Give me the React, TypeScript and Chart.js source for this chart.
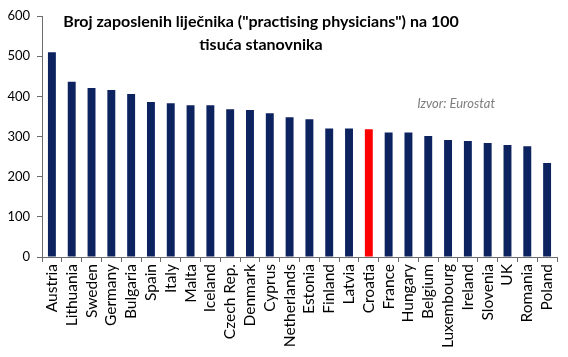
import React, { useEffect, useRef } from "react";
import { Chart, registerables } from "chart.js";

Chart.register(...registerables);

const countries = [
  "Austria", "Lithuania", "Sweden", "Germany", "Bulgaria", "Spain", "Italy", "Malta",
  "Iceland", "Czech Rep.", "Denmark", "Cyprus", "Netherlands", "Estonia", "Finland",
  "Latvia", "Croatia", "France", "Hungary", "Belgium", "Luxembourg", "Ireland",
  "Slovenia", "UK", "Romania", "Poland",
];
const physicians = [
  510, 436, 421, 416, 406, 386, 383, 378, 378, 368, 366, 358, 348, 343, 320,
  320, 318, 310, 310, 301, 291, 289, 284, 279, 276, 234,
];
const highlight = "Croatia";
const titleLines = ['Broj zaposlenih liječnika ("practising physicians") na 100', "tisuća stanovnika"];
const sourceText = "Izvor: Eurostat";

const NAVY = "#0c2360";
const RED = "#ff0000";
const AXIS = "#6b6b6b";
const FONT = "Lato, 'Open Sans', sans-serif";

const overlayPlugin = {
  id: "overlayText",
  afterDraw(chart: any) {
    const ctx = chart.ctx;
    ctx.save();
    ctx.fillStyle = "#000";
    ctx.font = `bold 16px ${FONT}`;
    ctx.textAlign = "center";
    ctx.textBaseline = "middle";
    ctx.fillText(titleLines[0], 261, 22);
    ctx.fillText(titleLines[1], 261, 45);
    ctx.fillStyle = "#7f7f7f";
    ctx.font = `italic 13px ${FONT}`;
    ctx.textAlign = "right";
    ctx.fillText(sourceText, 495, 104);
    ctx.restore();
  },
};

export default function App() {
  const ref = useRef<HTMLCanvasElement>(null);
  useEffect(() => {
    document.body.style.margin = "0";
    const chart = new Chart(ref.current!, {
      type: "bar",
      data: {
        labels: countries,
        datasets: [
          {
            data: physicians,
            backgroundColor: countries.map((c) => (c === highlight ? RED : NAVY)),
            barPercentage: 0.4,
            categoryPercentage: 1,
          },
        ],
      },
      options: {
        animation: false,
        responsive: false,
        maintainAspectRatio: false,
        layout: { padding: { top: 16, right: 11, left: 0, bottom: 0 } },
        plugins: { legend: { display: false }, tooltip: { enabled: false }, title: { display: false } },
        scales: {
          x: {
            offset: true,
            grid: { display: true, drawOnChartArea: false, offset: true, tickLength: 5, color: AXIS },
            border: { display: true, color: AXIS },
            ticks: {
              minRotation: 90,
              maxRotation: 90,
              autoSkip: false,
              color: "#000",
              padding: 2,
              font: { family: FONT, size: 15.5 },
            },
            afterFit: (s: any) => {
              s.height = 100;
            },
          },
          y: {
            min: 0,
            max: 600,
            ticks: { stepSize: 100, color: "#000", padding: 7, font: { family: FONT, size: 13 } },
            grid: { display: true, drawOnChartArea: false, tickLength: 5, color: AXIS },
            border: { display: true, color: AXIS },
            afterFit: (s: any) => {
              s.width = 42;
            },
          },
        },
      },
      plugins: [overlayPlugin],
    });
    return () => chart.destroy();
  }, []);
  return (
    <div style={{ position: "absolute", left: 0, top: 0, width: 568, height: 357, background: "#fff" }}>
      <canvas ref={ref} width={568} height={357} style={{ width: 568, height: 357 }} />
    </div>
  );
}
